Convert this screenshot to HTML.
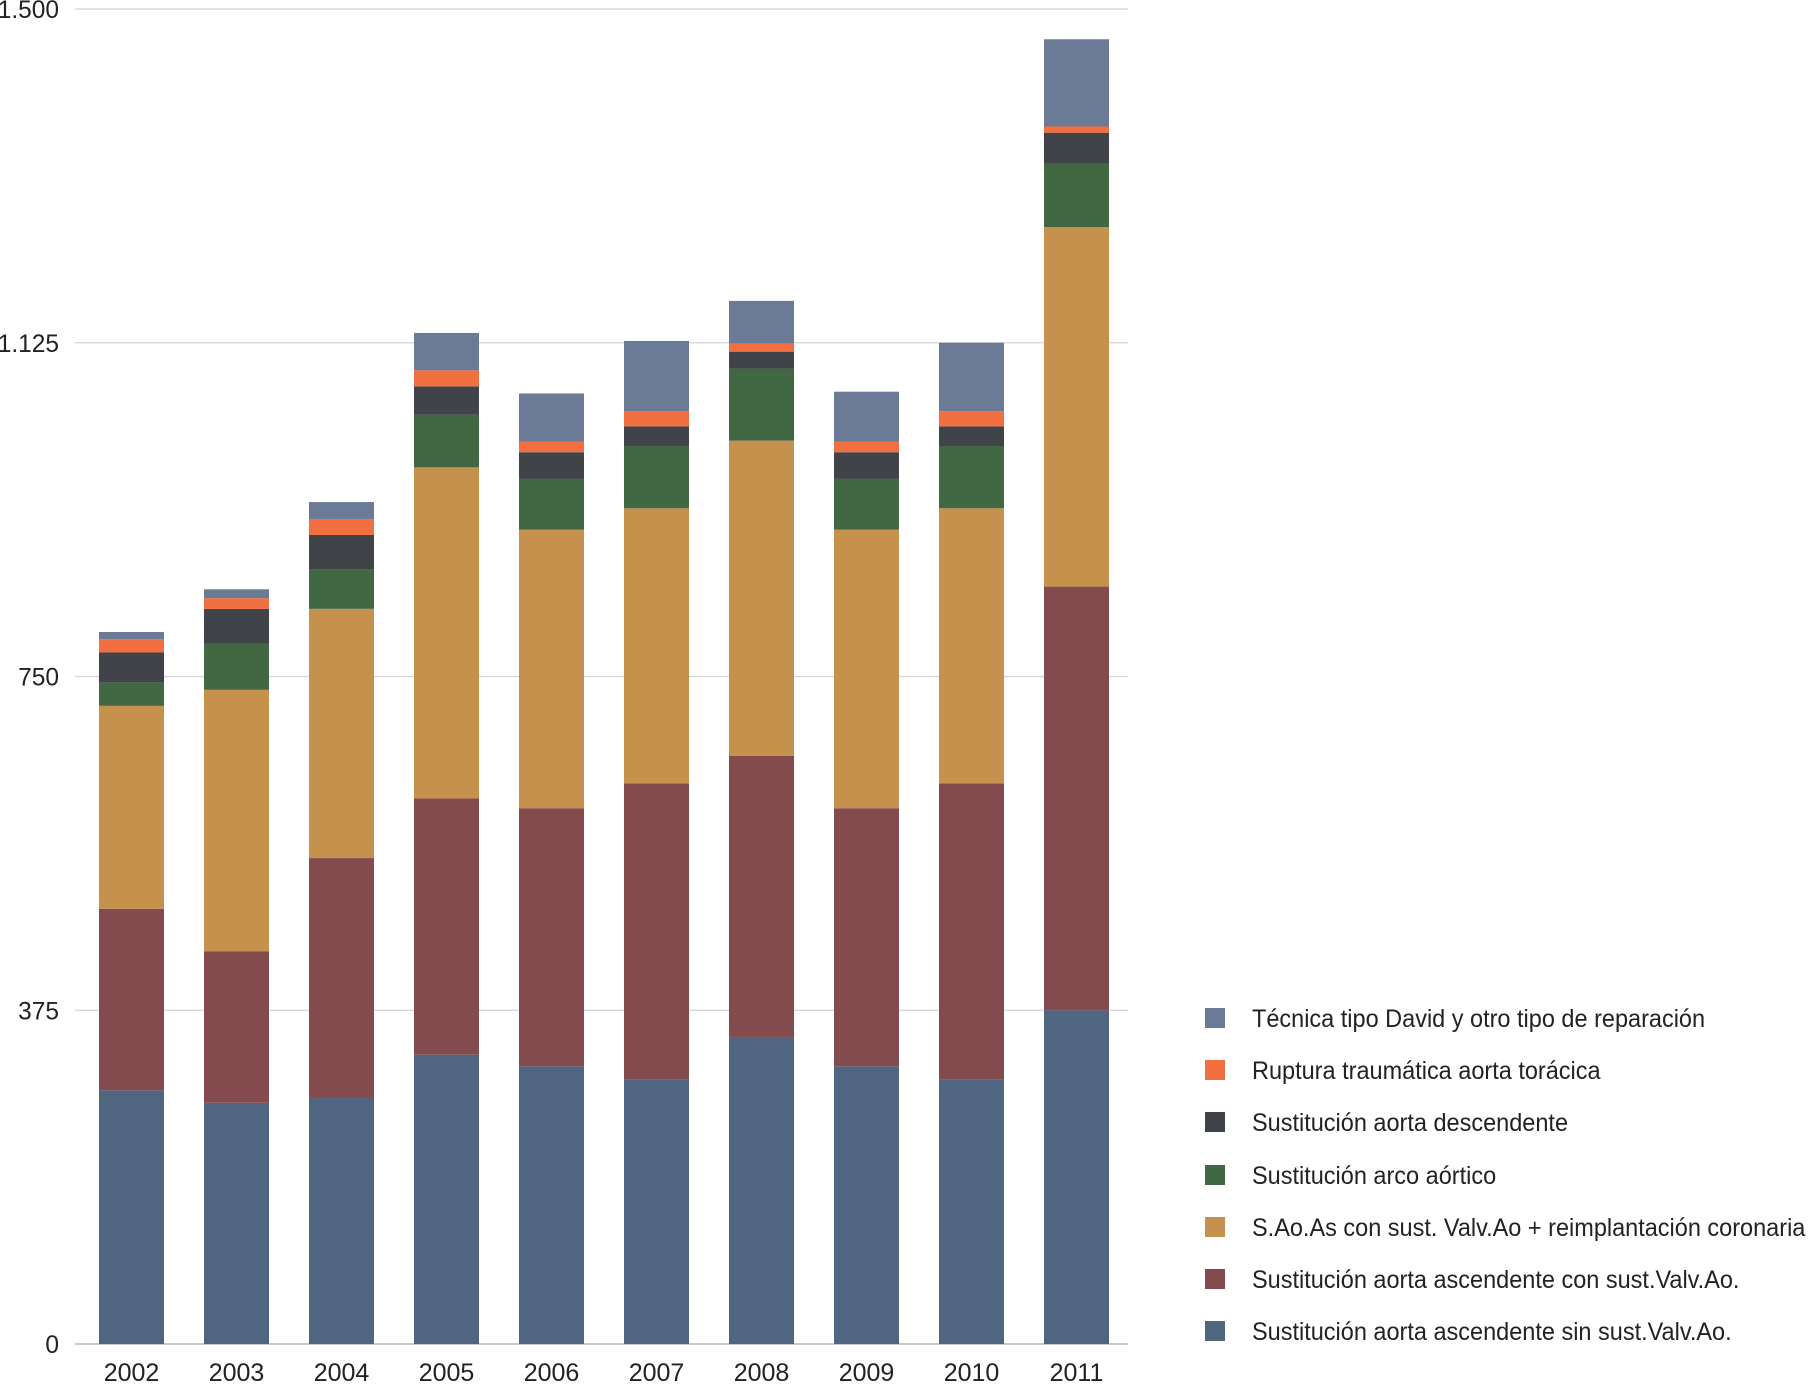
<!DOCTYPE html>
<html><head><meta charset="utf-8"><style>
html,body{margin:0;padding:0;background:#fff}
svg{display:block}
text{font-family:"Liberation Sans",sans-serif;fill:#222}
</style></head><body>
<svg id="chart" width="1808" height="1384" xmlns="http://www.w3.org/2000/svg"></svg>
<script>
const categories=["2002","2003","2004","2005","2006","2007","2008","2009","2010","2011"];
const seriesNames=["Sustitución aorta ascendente sin sust.Valv.Ao.","Sustitución aorta ascendente con sust.Valv.Ao.","S.Ao.As con sust. Valv.Ao + reimplantación coronaria","Sustitución arco aórtico","Sustitución aorta descendente","Ruptura traumática aorta torácica","Técnica tipo David y otro tipo de reparación"];
const sinValv=[285,271,277,325,312,297,345,312,297,375];
const conValv=[204,170,269,288,290,333,316,290,333,476];
const reimpl=[228,294,280,372,313,309,354,313,309,404];
const arco=[26,52,44,59,57,70,81,57,70,71];
const descendente=[34,39,39,32,30,22,19,30,22,35];
const ruptura=[15,12,18,18,12,17,9,12,17,7];
const david=[8,10,19,42,54,79,48,56,77,98];
const tickValues=[0,375,750,1125,1500];
const tickLabels=["0","375","750","1.125","1.500"];
const series=[sinValv,conValv,reimpl,arco,descendente,ruptura,david];
const colors=["#4f6580","#844b4f","#c6914c","#426843","#404347","#f26f41","#6b7b96"];
const NS="http://www.w3.org/2000/svg";
const svg=document.getElementById('chart');
const y0=1344,y1=9,maxV=1500;
function yS(v){return y0-(v/maxV)*(y0-y1);}
function xS(i){return 99+i*105;}
const bw=65;
function mk(t,a){const e=document.createElementNS(NS,t);for(const k in a)e.setAttribute(k,a[k]);svg.appendChild(e);return e;}
tickValues.forEach((v,i)=>{
  const l=mk('line',{x1:75,x2:1128,y1:yS(v),y2:yS(v),stroke:i==0?'#aaa':'#d4d4d4','stroke-width':1.3});
  
  
  const t=mk('text',{x:0,y:0,'font-size':25,'text-anchor':'end',transform:`translate(59,${yS(v)+9}) scale(0.98,1)`});
  t.textContent=tickLabels[i];
  
  
});
categories.forEach((c,i)=>{
  let acc=0;
  series.forEach((s,j)=>{
    const top=yS(acc+s[i]),bot=yS(acc);
    const r=mk('rect',{x:xS(i),y:top,width:bw,height:bot-top,fill:colors[j]});
    
    
    acc+=s[i];
  });
  const t=mk('text',{x:0,y:0,'font-size':25,'text-anchor':'middle',transform:`translate(${xS(i)+bw/2},1381) scale(1.0,1)`});
  t.textContent=c;
  
  
});
const legendY=[1331,1279,1227,1175,1122,1070,1018];
seriesNames.forEach((n,j)=>{
  const y=legendY[j];
  const r=mk('rect',{x:1205,y:y-10,width:20,height:20,fill:colors[j]});
  
  
  const t=mk('text',{x:0,y:0,'font-size':25,transform:`translate(1252,${y+9}) scale(0.94,1)`});
  t.textContent=n;
  
  
});
</script>
</body></html>
